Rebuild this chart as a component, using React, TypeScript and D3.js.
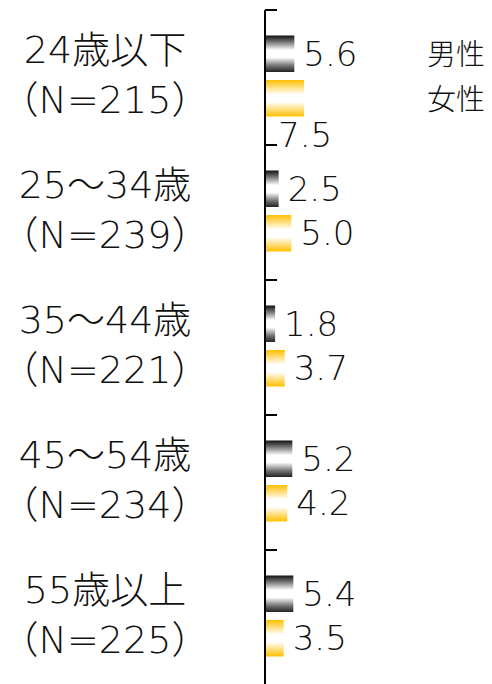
import React from "react";
import * as d3 from "d3";

const categories = ["24歳以下", "25～34歳", "35～44歳", "45～54歳", "55歳以上"];
const sampleLabels = ["（N=215）", "（N=239）", "（N=221）", "（N=234）", "（N=225）"];
const seriesNames = ["男性", "女性"];
const maleValues = [5.6, 2.5, 1.8, 5.2, 5.4];
const femaleValues = [7.5, 5.0, 3.7, 4.2, 3.5];

const W = 492;
const H = 684;

export default function App() {
  const y = d3.scaleBand<string>().domain(categories).range([10, 685]).padding(0);
  const inner = d3
    .scaleBand<string>()
    .domain(["male", "female"])
    .range([0, 132])
    .paddingInner(0.18)
    .paddingOuter(0.573);
  const x = d3.scaleLinear().domain([0, 40]).range([266, 266 + 5.06 * 40]);
  const axisX = 265;
  const numFont = "'DejaVu Sans', 'Noto Sans CJK JP', sans-serif";
  const cjkFont = "'Noto Sans CJK JP', sans-serif";

  const series = [
    { key: "male", values: maleValues, fill: "url(#gradMale)" },
    { key: "female", values: femaleValues, fill: "url(#gradFemale)" },
  ];

  return (
    <svg
      width={W}
      height={H}
      style={{ position: "absolute", left: 0, top: 0, background: "#fff" }}
    >
      <defs>
        <linearGradient id="gradMale" x1="0" y1="0" x2="0" y2="1">
          <stop offset="0" stopColor="#111" />
          <stop offset="0.18" stopColor="#777" />
          <stop offset="0.4" stopColor="#fff" />
          <stop offset="0.6" stopColor="#fff" />
          <stop offset="0.82" stopColor="#777" />
          <stop offset="1" stopColor="#222" />
        </linearGradient>
        <linearGradient id="gradFemale" x1="0" y1="0" x2="0" y2="1">
          <stop offset="0" stopColor="#FFC000" />
          <stop offset="0.12" stopColor="#FFD24D" />
          <stop offset="0.4" stopColor="#fff" />
          <stop offset="0.6" stopColor="#fff" />
          <stop offset="0.88" stopColor="#FFD24D" />
          <stop offset="1" stopColor="#FFC000" />
        </linearGradient>
      </defs>

      {/* category labels */}
      {categories.map((c, i) => {
        const cy = (y(c) as number) + y.bandwidth() / 2;
        return (
          <g
            key={c}
            fontFamily={numFont}
            fontWeight={300}
            fontSize={38}
            fill="#111"
            textAnchor="middle"
          >
            <text x={105} y={cy - 28} dy="0.36em">
              {c}
            </text>
            <text x={105} y={cy + 22} dy="0.36em">
              {sampleLabels[i]}
            </text>
          </g>
        );
      })}

      {/* bars */}
      {series.map((s) =>
        categories.map((c, i) => {
          const by = (y(c) as number) + (inner(s.key) as number);
          const bh = inner.bandwidth();
          const v = s.values[i];
          const below = s.key === "female" && i === 0;
          const lx = below ? x(0) + 12 : x(v) + 9;
          const ly = below ? by + bh / 2 + bh : by + bh / 2;
          return (
            <g key={s.key + c}>
              <rect x={x(0)} y={by} width={x(v) - x(0)} height={bh} fill={s.fill} />
              <text
                x={lx}
                y={ly}
                dy="0.36em"
                fontFamily={numFont}
                fontWeight={300}
                fontSize={34}
                fill="#111"
              >
                {v.toFixed(1)}
              </text>
            </g>
          );
        })
      )}

      {/* axis */}
      <line x1={axisX} x2={axisX} y1={10} y2={H} stroke="#000" strokeWidth={2} />
      {categories.map((c) => (
        <line
          key={"t" + c}
          x1={axisX}
          x2={axisX + 12}
          y1={y(c) as number}
          y2={y(c) as number}
          stroke="#000"
          strokeWidth={2}
        />
      ))}

      {/* legend */}
      {seriesNames.map((n, i) => (
        <text
          key={n}
          x={427}
          y={55 + i * 45}
          dy="0.36em"
          fontFamily={cjkFont}
          fontWeight={300}
          fontSize={29}
          fill="#111"
        >
          {n}
        </text>
      ))}
    </svg>
  );
}
